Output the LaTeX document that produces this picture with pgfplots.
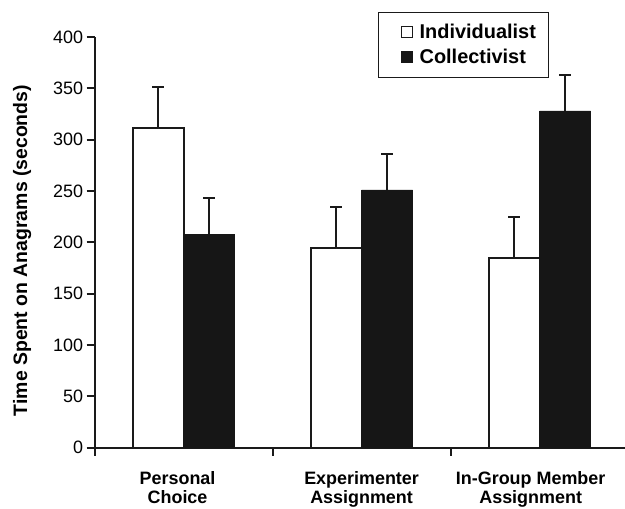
\documentclass[border=0pt]{standalone}
\usepackage{fontspec}
\setmainfont{Liberation Sans}
\usepackage{pgfplots}
\pgfplotsset{compat=1.18}
\definecolor{barblk}{RGB}{22,22,22}
\definecolor{lineblk}{RGB}{26,26,26}
\begin{document}
\begin{tikzpicture}
\begin{axis}[
  scale only axis, width=530.4bp, height=410.6bp,
  xmin=-0.5, xmax=2.48, ymin=0, ymax=400,
  axis lines*=left,
  axis line style={line width=2bp, draw=lineblk},
  ybar=0pt, bar width=51bp,
  xtick={-0.5,0.5,1.5}, xticklabels={},
  extra x ticks={-0.034,1,1.95},
  extra x tick labels={{Personal\\Choice},{Experimenter\\Assignment},{In-Group Member\\Assignment}},
  extra x tick style={major tick length=0pt, tick label style={align=center, font=\fontsize{18}{19.5}\selectfont\bfseries, yshift=-20bp}},
  ytick={0,50,...,400},
  y tick label style={font=\fontsize{18}{18}\selectfont},
  tick style={line width=2bp, draw=lineblk},
  tick align=outside, major tick length=8bp,
  /pgf/number format/assume math mode=true,
  ylabel={Time Spent on Anagrams (seconds)},
  ylabel style={at={(axis description cs:-0.113,0.48)}, anchor=south, font=\fontsize{19.5}{19.5}\selectfont\bfseries},
  legend entries={Individualist, Collectivist},
  legend style={at={(0.534,1.061)}, anchor=north west, draw=lineblk, line width=0.8bp,
    font=\fontsize{20}{20}\selectfont\bfseries, cells={anchor=west},
    inner xsep=11bp, inner ysep=10bp, row sep=5bp,
    /tikz/every odd column/.style={column sep=5bp}},
  legend image code/.code={\path (0bp,0bp); \draw[#1, line width=0.8bp] (11bp,-5.5bp) rectangle (22bp,5.5bp);},
]
\addplot[fill=white, draw=lineblk, line width=2bp,
  error bars/.cd, y dir=plus, y explicit,
  error bar style={line width=2bp, draw=lineblk},
  error mark options={rotate=90, line width=2bp, mark size=6bp, draw=lineblk}]
  coordinates {(0,311) +- (0,40.5) (1,194) +- (0,40) (2,185) +- (0,40)};
\addplot[fill=barblk, draw=barblk, line width=0.5bp,
  error bars/.cd, y dir=plus, y explicit,
  error bar style={line width=2bp, draw=lineblk},
  error mark options={rotate=90, line width=2bp, mark size=6bp, draw=lineblk}]
  coordinates {(0,208) +- (0,35) (1,251) +- (0,35) (2,328) +- (0,35)};
\end{axis}
\pgfresetboundingbox
\path[use as bounding box] (-94.6bp,-61.4bp) rectangle (530.4bp,447.6bp);
\end{tikzpicture}
\end{document}
